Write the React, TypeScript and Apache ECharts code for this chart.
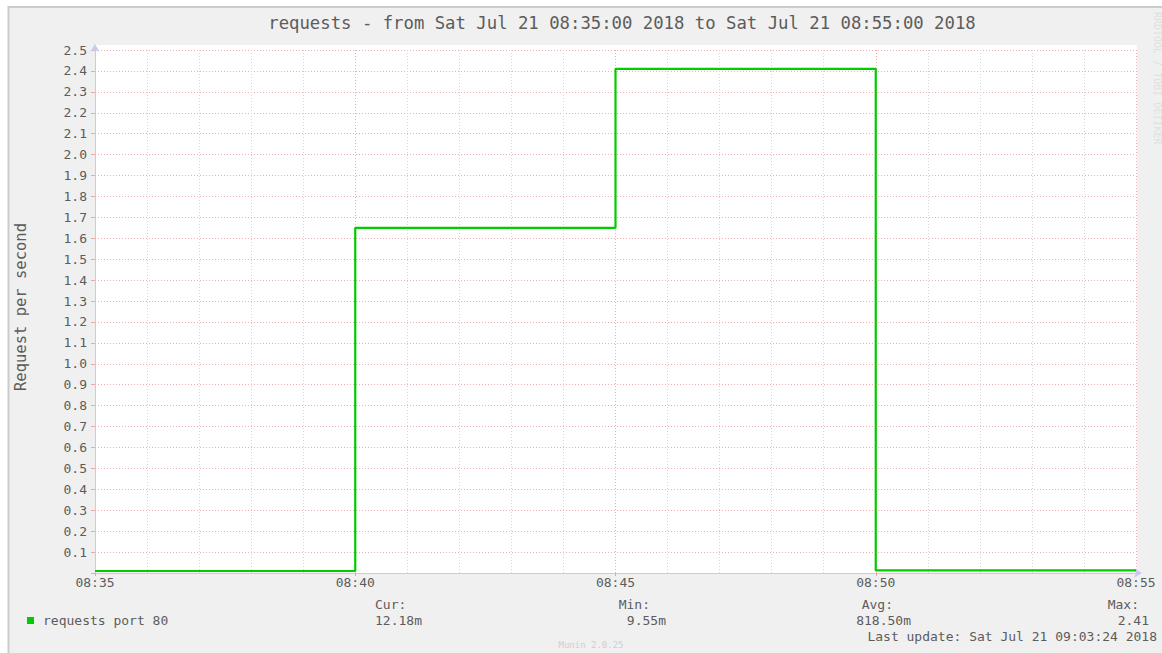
import React, { useEffect, useRef } from "react";
import * as echarts from "echarts";

const times = ["08:35", "08:40", "08:45", "08:50", "08:55"];
const requests = [0.00955, 1.65, 2.41, 0.01218, 0.01218];
const legendHeaders = ["Cur:", "Min:", "Avg:", "Max:"];
const legendValues = ["12.18m", "9.55m", "818.50m", "2.41"];
const seriesName = "requests port 80";
const titleText = "requests - from Sat Jul 21 08:35:00 2018 to Sat Jul 21 08:55:00 2018";
const yAxisName = "Request per second";
const lastUpdate = "Last update: Sat Jul 21 09:03:24 2018";

const toMin = (t: string) => {
  const [h, m] = t.split(":").map(Number);
  return h * 60 + m;
};
const baseMin = toMin(times[0]);
const endMin = toMin(times[times.length - 1]);

const FONT = "DejaVu Sans Mono";
const TXT = "#5c5c5c";

export default function App() {
  const ref = useRef<HTMLDivElement>(null);
  useEffect(() => {
    if (!ref.current) return;
    const chart = echarts.init(ref.current, null, { renderer: "svg" });
    const data = times.map((t, i) => [toMin(t), requests[i]]);
    const hdrX = [375, 650, 893, 1139];
    const hdrAlign = ["left", "right", "right", "right"];
    const valX = [375, 666, 911, 1149];
    const valAlign = ["left", "right", "right", "right"];
    chart.setOption({
      animation: false,
      backgroundColor: "#ffffff",
      grid: { left: 95, top: 50, width: 1041, height: 523, containLabel: false },
      xAxis: {
        type: "value",
        min: baseMin,
        max: endMin,
        interval: 5,
        axisLine: {
          show: true,
          lineStyle: { color: "#c8c8f5", width: 1 },
          symbol: ["none", "arrow"],
          symbolSize: [7, 8],
          symbolOffset: [0, 6],
        },
        axisTick: { show: true, length: 3, inside: false, lineStyle: { color: "#f0a0a0" } },
        axisLabel: {
          fontFamily: FONT,
          fontSize: 13,
          color: TXT,
          margin: 3,
          formatter: (v: number) => times[Math.round((v - baseMin) / 5)] ?? "",
        },
        splitLine: { show: true, lineStyle: { color: "rgba(230,120,120,0.6)", type: [1, 2], width: 1 } },
        minorTick: { show: false, splitNumber: 5 },
        minorSplitLine: { show: true, lineStyle: { color: "#d6d6d6", type: [1, 2], width: 1 } },
      },
      yAxis: {
        type: "value",
        min: 0,
        max: 2.5,
        interval: 0.1,
        axisLine: {
          show: true,
          lineStyle: { color: "#c8c8f5", width: 1 },
          symbol: ["none", "arrow"],
          symbolSize: [7, 8],
          symbolOffset: [0, 6],
        },
        axisTick: { show: true, length: 4, lineStyle: { color: "rgba(230,120,120,0.6)" } },
        axisLabel: {
          fontFamily: FONT,
          fontSize: 13,
          color: TXT,
          margin: 8,
          formatter: (v: number) => (v < 0.05 ? "" : v.toFixed(1)),
        },
        splitLine: { show: true, lineStyle: { color: "rgba(230,120,120,0.6)", type: [1, 2], width: 1 } },
      },
      series: [
        {
          name: seriesName,
          type: "line",
          step: "end",
          data,
          symbol: "none",
          lineStyle: { color: "#00cc00", width: 2.2 },
          z: 5,
        },
      ],
      graphic: [
        { type: "rect", z: -20, shape: { x: 9, y: 8, width: 1153, height: 645 }, style: { fill: "#f0f0f0" } },
        { type: "line", z: -15, shape: { x1: 9, y1: 7, x2: 1162, y2: 7 }, style: { stroke: "#cccccc", lineWidth: 2 } },
        { type: "line", z: -15, shape: { x1: 8.5, y1: 6, x2: 8.5, y2: 653 }, style: { stroke: "#cccccc", lineWidth: 2 } },
        { type: "rect", z: -10, shape: { x: 95, y: 45, width: 1042, height: 528 }, style: { fill: "#ffffff" } },
        {
          type: "text",
          x: 622,
          y: 23,
          style: { text: titleText, fontFamily: FONT, fontSize: 17.3, fill: TXT, textAlign: "center", textVerticalAlign: "middle" },
        },
        {
          type: "text",
          x: 21,
          y: 307,
          rotation: Math.PI / 2,
          style: { text: yAxisName, fontFamily: FONT, fontSize: 15.5, fill: TXT, textAlign: "center", textVerticalAlign: "middle" },
        },
        {
          type: "text",
          x: 1157,
          y: 12,
          rotation: -Math.PI / 2,
          style: { text: "RRDTOOL / TOBI OETIKER", fontFamily: FONT, fontSize: 10, fill: "#e0e0e0", textAlign: "left", textVerticalAlign: "middle" },
        },
        { type: "rect", shape: { x: 27, y: 617, width: 7, height: 7 }, style: { fill: "#00cc00" } },
        {
          type: "text",
          x: 43,
          y: 620,
          style: { text: seriesName, fontFamily: FONT, fontSize: 13, fill: TXT, textAlign: "left", textVerticalAlign: "middle" },
        },
        ...legendHeaders.map((h, i) => ({
          type: "text",
          x: hdrX[i],
          y: 604,
          style: { text: h, fontFamily: FONT, fontSize: 13, fill: TXT, textAlign: hdrAlign[i], textVerticalAlign: "middle" },
        })),
        ...legendValues.map((v, i) => ({
          type: "text",
          x: valX[i],
          y: 620,
          style: { text: v, fontFamily: FONT, fontSize: 13, fill: TXT, textAlign: valAlign[i], textVerticalAlign: "middle" },
        })),
        {
          type: "text",
          x: 1157,
          y: 636,
          style: { text: lastUpdate, fontFamily: FONT, fontSize: 13, fill: TXT, textAlign: "right", textVerticalAlign: "middle" },
        },
        {
          type: "text",
          x: 591,
          y: 645,
          style: { text: "Munin 2.0.25", fontFamily: FONT, fontSize: 9, fill: "#cfcfcf", textAlign: "center", textVerticalAlign: "middle" },
        },
      ],
    });
    return () => chart.dispose();
  }, []);
  return (
    <div
      ref={ref}
      style={{ position: "fixed", left: 0, top: 0, width: 1162, height: 653 }}
    />
  );
}
